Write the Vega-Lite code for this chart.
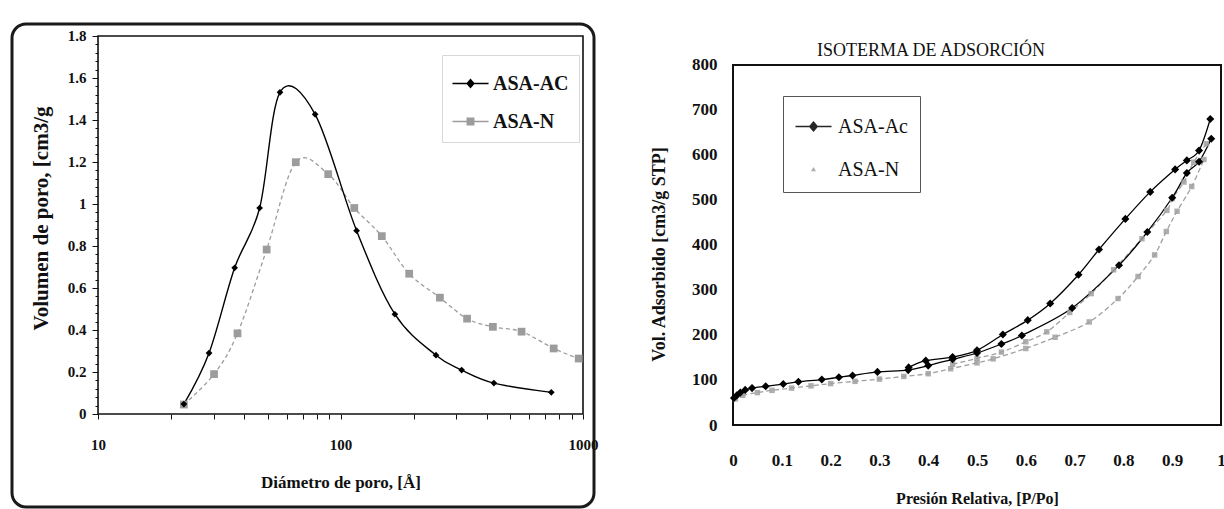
{
  "$schema": "https://vega.github.io/schema/vega-lite/v6.json",
  "padding": {"left": 10, "top": 22, "right": 0, "bottom": 0},
  "spacing": 139,
  "bounds": "flush",
  "resolve": {"scale": {"color": "independent", "shape": "independent"}, "legend": {"color": "independent", "shape": "independent"}},
  "config": {
    "font": "Liberation Serif",
    "axis": {"grid": false, "labelFont": "Liberation Serif", "titleFont": "Liberation Serif", "labelFontWeight": "bold", "titleFontWeight": "bold", "labelColor": "#111111", "titleColor": "#111111", "tickColor": "#111111"},
    "legend": {"labelFont": "Liberation Serif", "labelColor": "#111111"}
  },
  "datasets": {
    "pores": [
      {"s": "ASA-AC", "d": 22.6, "v": 0.047},
      {"s": "ASA-AC", "d": 28.7, "v": 0.29},
      {"s": "ASA-AC", "d": 36.6, "v": 0.696},
      {"s": "ASA-AC", "d": 46.4, "v": 0.981},
      {"s": "ASA-AC", "d": 56.3, "v": 1.532},
      {"s": "ASA-AC", "d": 78.6, "v": 1.427},
      {"s": "ASA-AC", "d": 116.5, "v": 0.873},
      {"s": "ASA-AC", "d": 167.6, "v": 0.475},
      {"s": "ASA-AC", "d": 247.6, "v": 0.28},
      {"s": "ASA-AC", "d": 316, "v": 0.209},
      {"s": "ASA-AC", "d": 429, "v": 0.147},
      {"s": "ASA-AC", "d": 740, "v": 0.103},
      {"s": "ASA-N", "d": 22.6, "v": 0.045},
      {"s": "ASA-N", "d": 30.1, "v": 0.19},
      {"s": "ASA-N", "d": 37.6, "v": 0.384},
      {"s": "ASA-N", "d": 49.6, "v": 0.783},
      {"s": "ASA-N", "d": 65.4, "v": 1.199},
      {"s": "ASA-N", "d": 89, "v": 1.142},
      {"s": "ASA-N", "d": 114, "v": 0.981},
      {"s": "ASA-N", "d": 148, "v": 0.847},
      {"s": "ASA-N", "d": 192, "v": 0.668},
      {"s": "ASA-N", "d": 257, "v": 0.554},
      {"s": "ASA-N", "d": 332.6, "v": 0.454},
      {"s": "ASA-N", "d": 425, "v": 0.415},
      {"s": "ASA-N", "d": 558, "v": 0.392},
      {"s": "ASA-N", "d": 757, "v": 0.312},
      {"s": "ASA-N", "d": 960, "v": 0.264}
    ],
    "iso": [
      {"s": "ASA-Ac", "b": "ads", "p": 0.002, "v": 60},
      {"s": "ASA-Ac", "b": "ads", "p": 0.008, "v": 66},
      {"s": "ASA-Ac", "b": "ads", "p": 0.015, "v": 72},
      {"s": "ASA-Ac", "b": "ads", "p": 0.025, "v": 78},
      {"s": "ASA-Ac", "b": "ads", "p": 0.039, "v": 82},
      {"s": "ASA-Ac", "b": "ads", "p": 0.067, "v": 86},
      {"s": "ASA-Ac", "b": "ads", "p": 0.103, "v": 91},
      {"s": "ASA-Ac", "b": "ads", "p": 0.134, "v": 96},
      {"s": "ASA-Ac", "b": "ads", "p": 0.182, "v": 101},
      {"s": "ASA-Ac", "b": "ads", "p": 0.217, "v": 106},
      {"s": "ASA-Ac", "b": "ads", "p": 0.245, "v": 110},
      {"s": "ASA-Ac", "b": "ads", "p": 0.296, "v": 118},
      {"s": "ASA-Ac", "b": "ads", "p": 0.359, "v": 122},
      {"s": "ASA-Ac", "b": "ads", "p": 0.4, "v": 132},
      {"s": "ASA-Ac", "b": "ads", "p": 0.45, "v": 146},
      {"s": "ASA-Ac", "b": "ads", "p": 0.5, "v": 160},
      {"s": "ASA-Ac", "b": "ads", "p": 0.55, "v": 180},
      {"s": "ASA-Ac", "b": "ads", "p": 0.592, "v": 199},
      {"s": "ASA-Ac", "b": "ads", "p": 0.695, "v": 260},
      {"s": "ASA-Ac", "b": "ads", "p": 0.791, "v": 355},
      {"s": "ASA-Ac", "b": "ads", "p": 0.849, "v": 429},
      {"s": "ASA-Ac", "b": "ads", "p": 0.9, "v": 505},
      {"s": "ASA-Ac", "b": "ads", "p": 0.93, "v": 560},
      {"s": "ASA-Ac", "b": "ads", "p": 0.955, "v": 585},
      {"s": "ASA-Ac", "b": "ads", "p": 0.98, "v": 636},
      {"s": "ASA-Ac", "b": "des", "p": 0.978, "v": 680},
      {"s": "ASA-Ac", "b": "des", "p": 0.955, "v": 610},
      {"s": "ASA-Ac", "b": "des", "p": 0.93, "v": 588},
      {"s": "ASA-Ac", "b": "des", "p": 0.906, "v": 568},
      {"s": "ASA-Ac", "b": "des", "p": 0.855, "v": 518},
      {"s": "ASA-Ac", "b": "des", "p": 0.804, "v": 458},
      {"s": "ASA-Ac", "b": "des", "p": 0.75, "v": 390},
      {"s": "ASA-Ac", "b": "des", "p": 0.708, "v": 334},
      {"s": "ASA-Ac", "b": "des", "p": 0.65, "v": 270},
      {"s": "ASA-Ac", "b": "des", "p": 0.604, "v": 233},
      {"s": "ASA-Ac", "b": "des", "p": 0.553, "v": 201},
      {"s": "ASA-Ac", "b": "des", "p": 0.5, "v": 166},
      {"s": "ASA-Ac", "b": "des", "p": 0.45, "v": 151},
      {"s": "ASA-Ac", "b": "des", "p": 0.395, "v": 143},
      {"s": "ASA-Ac", "b": "des", "p": 0.36, "v": 128},
      {"s": "ASA-N", "b": "ads", "p": 0.005, "v": 58},
      {"s": "ASA-N", "b": "ads", "p": 0.02, "v": 66},
      {"s": "ASA-N", "b": "ads", "p": 0.05, "v": 72},
      {"s": "ASA-N", "b": "ads", "p": 0.08, "v": 77},
      {"s": "ASA-N", "b": "ads", "p": 0.12, "v": 82},
      {"s": "ASA-N", "b": "ads", "p": 0.16, "v": 87},
      {"s": "ASA-N", "b": "ads", "p": 0.2, "v": 92},
      {"s": "ASA-N", "b": "ads", "p": 0.25, "v": 97},
      {"s": "ASA-N", "b": "ads", "p": 0.3, "v": 102},
      {"s": "ASA-N", "b": "ads", "p": 0.35, "v": 108},
      {"s": "ASA-N", "b": "ads", "p": 0.4, "v": 114},
      {"s": "ASA-N", "b": "ads", "p": 0.446, "v": 125},
      {"s": "ASA-N", "b": "ads", "p": 0.5, "v": 138},
      {"s": "ASA-N", "b": "ads", "p": 0.533, "v": 147},
      {"s": "ASA-N", "b": "ads", "p": 0.6, "v": 170},
      {"s": "ASA-N", "b": "ads", "p": 0.66, "v": 195},
      {"s": "ASA-N", "b": "ads", "p": 0.73, "v": 229},
      {"s": "ASA-N", "b": "ads", "p": 0.789, "v": 281},
      {"s": "ASA-N", "b": "ads", "p": 0.83, "v": 330},
      {"s": "ASA-N", "b": "ads", "p": 0.864, "v": 378},
      {"s": "ASA-N", "b": "ads", "p": 0.888, "v": 430},
      {"s": "ASA-N", "b": "ads", "p": 0.91, "v": 475},
      {"s": "ASA-N", "b": "ads", "p": 0.94, "v": 530},
      {"s": "ASA-N", "b": "ads", "p": 0.965, "v": 590},
      {"s": "ASA-N", "b": "des", "p": 0.97, "v": 625},
      {"s": "ASA-N", "b": "des", "p": 0.944, "v": 584},
      {"s": "ASA-N", "b": "des", "p": 0.924, "v": 540},
      {"s": "ASA-N", "b": "des", "p": 0.9, "v": 503},
      {"s": "ASA-N", "b": "des", "p": 0.889, "v": 477},
      {"s": "ASA-N", "b": "des", "p": 0.838, "v": 414},
      {"s": "ASA-N", "b": "des", "p": 0.78, "v": 345},
      {"s": "ASA-N", "b": "des", "p": 0.734, "v": 292},
      {"s": "ASA-N", "b": "des", "p": 0.69, "v": 250},
      {"s": "ASA-N", "b": "des", "p": 0.643, "v": 207},
      {"s": "ASA-N", "b": "des", "p": 0.6, "v": 185},
      {"s": "ASA-N", "b": "des", "p": 0.55, "v": 162},
      {"s": "ASA-N", "b": "des", "p": 0.5, "v": 148},
      {"s": "ASA-N", "b": "des", "p": 0.45, "v": 135}
    ]
  },
  "hconcat": [
    {
      "width": 582,
      "height": 483,
      "view": {"stroke": "#1a1a1a", "strokeWidth": 3, "cornerRadius": 14},
      "resolve": {"axis": {"y": "independent"}},
      "layer": [
        {
          "data": {"name": "pores"},
          "transform": [{"filter": "false"}],
          "mark": {"type": "point", "filled": true, "opacity": 1},
          "encoding": {
            "x": {"field": "d", "type": "quantitative",
              "scale": {"type": "log", "domain": [4.419, 1110.1], "nice": false, "zero": false},
              "axis": {"title": "Diámetro de poro, [Å]", "values": [10, 20, 30, 40, 50, 60, 70, 80, 90, 100, 200, 300, 400, 500, 600, 700, 800, 900, 1000],
                "labelExpr": "datum.value == 10 || datum.value == 100 || datum.value == 1000 ? datum.value + '' : ''",
                "labelOverlap": false, "labelFlush": false,
                "offset": -93, "domain": false, "tickSize": 5, "labelFontSize": 15, "labelPadding": 18,
                "titleFontSize": 17, "titleX": 328.5, "titleY": 68, "titleBaseline": "middle"}},
            "y": {"field": "v", "type": "quantitative",
              "scale": {"domain": [-0.4429, 1.8571], "nice": false, "zero": false},
              "axis": {"title": "Volumen de poro, [cm3/g", "orient": "left", "values": [0, 0.2, 0.4, 0.6, 0.8, 1, 1.2, 1.4, 1.6, 1.8], "format": "~g",
                "labelOverlap": false, "labelFlush": false, "tickSize": 6,
                "offset": -86, "domain": false, "labelFontSize": 15, "labelPadding": 6,
                "titleFontSize": 21, "titleX": -57, "titleY": 194, "titleBaseline": "middle"}},
            "color": {"field": "s", "type": "nominal", "scale": {"domain": ["ASA-AC", "ASA-N"], "range": ["#000000", "#9c9c9c"]},
              "legend": {"title": null, "orient": "none", "legendX": 430, "legendY": 31, "padding": 10, "strokeColor": "#d8d8d8",
                "symbolSize": 1300, "symbolStrokeWidth": 0, "symbolOpacity": 1, "labelFontSize": 20, "labelFontWeight": "bold", "rowPadding": 9, "labelOffset": 4}},
            "shape": {"field": "s", "type": "nominal",
              "scale": {"domain": ["ASA-AC", "ASA-N"], "range": ["M-1,-0.04H1V0.04H-1ZM0,-0.28L0.24,0L0,0.28L-0.24,0Z", "M-1,-0.04H1V0.04H-1ZM-0.22,-0.22H0.22V0.22H-0.22Z"]}}
          }
        },
        {
          "data": {"name": "pores"},
          "transform": [{"filter": "false"}],
          "mark": {"type": "point", "opacity": 0},
          "encoding": {
            "x": {"field": "d", "type": "quantitative"},
            "y": {"field": "v", "type": "quantitative",
              "axis": {"title": null, "orient": "left", "values": [0.04, 0.08, 0.12, 0.16, 0.24, 0.28, 0.32, 0.36, 0.44, 0.48, 0.52, 0.56, 0.64, 0.68, 0.72, 0.76, 0.84, 0.88, 0.92, 0.96, 1.04, 1.08, 1.12, 1.16, 1.24, 1.28, 1.32, 1.36, 1.44, 1.48, 1.52, 1.56, 1.64, 1.68, 1.72, 1.76],
                "labels": false, "tickSize": 3, "offset": -86, "domain": false}}
          }
        },
        {
          "data": {"values": [{}]},
          "mark": {"type": "rect", "fillOpacity": 0, "stroke": "#111111", "strokeWidth": 1.6},
          "encoding": {
            "x": {"datum": 10, "type": "quantitative"},
            "x2": {"datum": 1000},
            "y": {"datum": 0, "type": "quantitative", "axis": null},
            "y2": {"datum": 1.8}
          }
        },
        {
          "data": {"name": "pores"},
          "transform": [{"filter": "datum.s == 'ASA-N'"}],
          "mark": {"type": "line", "interpolate": "cardinal", "tension": 0, "strokeWidth": 1.3, "strokeDash": [4, 3]},
          "encoding": {
            "x": {"field": "d", "type": "quantitative"},
            "y": {"field": "v", "type": "quantitative", "axis": null},
            "color": {"field": "s", "type": "nominal"}
          }
        },
        {
          "data": {"name": "pores"},
          "transform": [{"filter": "datum.s == 'ASA-AC'"}],
          "mark": {"type": "line", "interpolate": "cardinal", "tension": 0, "strokeWidth": 1.4},
          "encoding": {
            "x": {"field": "d", "type": "quantitative"},
            "y": {"field": "v", "type": "quantitative", "axis": null},
            "color": {"field": "s", "type": "nominal"}
          }
        },
        {
          "data": {"name": "pores"},
          "transform": [{"filter": "datum.s == 'ASA-N'"}],
          "mark": {"type": "point", "shape": "square", "filled": true, "size": 60, "opacity": 1},
          "encoding": {
            "x": {"field": "d", "type": "quantitative"},
            "y": {"field": "v", "type": "quantitative", "axis": null},
            "color": {"field": "s", "type": "nominal"}
          }
        },
        {
          "data": {"name": "pores"},
          "transform": [{"filter": "datum.s == 'ASA-AC'"}],
          "mark": {"type": "point", "shape": "diamond", "filled": true, "size": 45, "opacity": 1},
          "encoding": {
            "x": {"field": "d", "type": "quantitative"},
            "y": {"field": "v", "type": "quantitative", "axis": null},
            "color": {"field": "s", "type": "nominal"}
          }
        }
      ]
    },
    {
      "width": 488,
      "height": 401,
      "view": {"stroke": null},
      "title": {"text": "ISOTERMA DE ADSORCIÓN", "fontSize": 18, "fontWeight": "normal", "font": "Liberation Serif", "color": "#111111", "anchor": "middle", "frame": "group", "offset": 0, "dx": -46, "dy": 45, "baseline": "middle"},
      "layer": [
        {
          "data": {"name": "iso"},
          "transform": [{"filter": "false"}],
          "mark": {"type": "point", "filled": true, "opacity": 1},
          "encoding": {
            "x": {"field": "p", "type": "quantitative",
              "scale": {"domain": [0, 1], "nice": false, "zero": false},
              "axis": {"title": "Presión Relativa, [P/Po]", "values": [0, 0.1, 0.2, 0.3, 0.4, 0.5, 0.6, 0.7, 0.8, 0.9, 1], "format": "~g",
                "labelOverlap": false, "labelFlush": false,
                "domain": false, "ticks": false, "tickSize": 0, "labelFontSize": 17, "labelPadding": 27,
                "titleFontSize": 16, "titleX": 244, "titleY": 73, "titleBaseline": "middle"}},
            "y": {"field": "v", "type": "quantitative",
              "scale": {"domain": [0, 891.1], "nice": false, "zero": false},
              "axis": {"title": "Vol. Adsorbido [cm3/g STP]", "values": [0, 100, 200, 300, 400, 500, 600, 700, 800],
                "labelOverlap": false, "labelFlush": false,
                "domain": false, "ticks": false, "tickSize": 0, "labelFontSize": 17, "labelPadding": 16,
                "titleFontSize": 18, "titleX": -74, "titleY": 230, "titleBaseline": "middle"}},
            "color": {"field": "s", "type": "nominal", "scale": {"domain": ["ASA-Ac", "ASA-N"], "range": ["#000000", "#a0a0a0"]},
              "legend": {"title": null, "orient": "none", "legendX": 50, "legendY": 72, "padding": 12, "strokeColor": "#555555",
                "symbolSize": 1300, "symbolStrokeWidth": 0, "symbolOpacity": 1, "labelFontSize": 20, "labelFontWeight": "normal", "rowPadding": 14, "labelOffset": 6}},
            "shape": {"field": "s", "type": "nominal",
              "scale": {"domain": ["ASA-Ac", "ASA-N"], "range": ["M-1,-0.04H1V0.04H-1ZM0,-0.3L0.26,0L0,0.3L-0.26,0Z", "M0,-0.14L0.14,0.1L-0.14,0.1Z"]}}
          }
        },
        {
          "data": {"values": [{}]},
          "mark": {"type": "rect", "fillOpacity": 0, "stroke": "#111111", "strokeWidth": 2},
          "encoding": {
            "x": {"datum": 0, "type": "quantitative"},
            "x2": {"datum": 1},
            "y": {"datum": 0, "type": "quantitative"},
            "y2": {"datum": 800}
          }
        },
        {
          "data": {"name": "iso"},
          "transform": [{"filter": "datum.s == 'ASA-N'"}],
          "mark": {"type": "line", "interpolate": "cardinal", "tension": 0, "strokeWidth": 1.3, "strokeDash": [5, 3]},
          "encoding": {
            "x": {"field": "p", "type": "quantitative"},
            "y": {"field": "v", "type": "quantitative"},
            "detail": {"field": "b", "type": "nominal"},
            "color": {"field": "s", "type": "nominal"}
          }
        },
        {
          "data": {"name": "iso"},
          "transform": [{"filter": "datum.s == 'ASA-Ac'"}],
          "mark": {"type": "line", "interpolate": "cardinal", "tension": 0, "strokeWidth": 1.3},
          "encoding": {
            "x": {"field": "p", "type": "quantitative"},
            "y": {"field": "v", "type": "quantitative"},
            "detail": {"field": "b", "type": "nominal"},
            "color": {"field": "s", "type": "nominal"}
          }
        },
        {
          "data": {"name": "iso"},
          "transform": [{"filter": "datum.s == 'ASA-N'"}],
          "mark": {"type": "point", "shape": "square", "filled": true, "size": 30, "opacity": 0.85},
          "encoding": {
            "x": {"field": "p", "type": "quantitative"},
            "y": {"field": "v", "type": "quantitative"},
            "color": {"field": "s", "type": "nominal"}
          }
        },
        {
          "data": {"name": "iso"},
          "transform": [{"filter": "datum.s == 'ASA-Ac'"}],
          "mark": {"type": "point", "shape": "diamond", "filled": true, "size": 65, "opacity": 1},
          "encoding": {
            "x": {"field": "p", "type": "quantitative"},
            "y": {"field": "v", "type": "quantitative"},
            "color": {"field": "s", "type": "nominal"}
          }
        }
      ]
    }
  ]
}
